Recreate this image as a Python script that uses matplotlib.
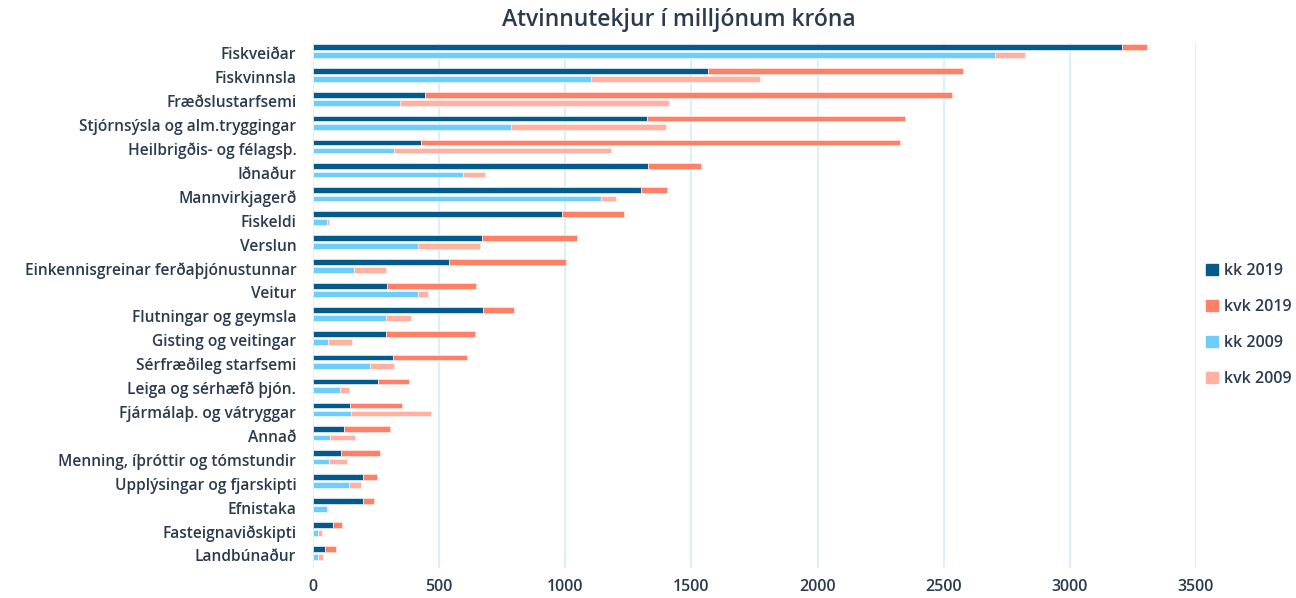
import numpy as np
import matplotlib
matplotlib.use("Agg")
import matplotlib.pyplot as plt
from matplotlib.patches import Patch

plt.rcParams['font.family'] = ['Open Sans', 'DejaVu Sans']

# atvinnugreinar, efst til neðst
greinar = ["Fiskveiðar", "Fiskvinnsla", "Fræðslustarfsemi", "Stjórnsýsla og alm.tryggingar",
           "Heilbrigðis- og félagsþ.", "Iðnaður", "Mannvirkjagerð", "Fiskeldi", "Verslun",
           "Einkennisgreinar ferðaþjónustunnar", "Veitur", "Flutningar og geymsla",
           "Gisting og veitingar", "Sérfræðileg starfsemi", "Leiga og sérhæfð þjón.",
           "Fjármálaþ. og vátryggar", "Annað", "Menning, íþróttir og tómstundir",
           "Upplýsingar og fjarskipti", "Efnistaka", "Fasteignaviðskipti", "Landbúnaður"]

kk_2019 = [3205, 1564, 443, 1325, 429, 1326, 1302, 988, 668, 541, 294, 673,
           289, 317, 257, 145, 121, 112, 199, 198, 79, 49]
kvk_2019 = [100, 1012, 2088, 1023, 1897, 210, 103, 245, 380, 463, 351, 125,
            355, 295, 124, 206, 184, 154, 56, 45, 37, 43]
kk_2009 = [2703, 1100, 346, 784, 321, 594, 1143, 57, 418, 162, 418, 289,
           59, 227, 107, 150, 67, 63, 143, 57, 21, 19]
kvk_2009 = [121, 672, 1065, 617, 859, 87, 59, 5, 244, 128, 36, 100,
            94, 96, 34, 318, 98, 70, 47, 2, 16, 22]

c_kk19 = "#055a8c"
c_kvk19 = "#ff8066"
c_kk09 = "#6dcdfd"
c_kvk09 = "#ffb2a2"
txt = "#2b3a4e"

y = np.arange(len(greinar))
h = 0.24
off = 0.17

fig = plt.figure(figsize=(12.96, 5.98), dpi=100)
ax = fig.add_axes([313/1296, 1 - 568/598, (1196 - 313)/1296, 525/598])

ax.barh(y - off, kk_2019, height=h, color=c_kk19, edgecolor="#d9e6ee", linewidth=0.6, zorder=3)
ax.barh(y - off, kvk_2019, left=kk_2019, height=h, color=c_kvk19, edgecolor="#ffe0d8", linewidth=0.6, zorder=3)
ax.barh(y + off, kk_2009, height=h, color=c_kk09, edgecolor="#e0f4ff", linewidth=0.6, zorder=3)
ax.barh(y + off, kvk_2009, left=kk_2009, height=h, color=c_kvk09, edgecolor="#ffeae5", linewidth=0.6, zorder=3)

ax.set_xlim(0, 3500)
ax.set_ylim(len(greinar) - 1 + 0.63, -0.33)
ax.set_xticks(np.arange(0, 3501, 500))
ax.set_yticks(y + 0.1)
ax.set_yticklabels(greinar)
ax.tick_params(axis='y', length=0, pad=12, labelsize=11.2, labelcolor=txt)
ax.tick_params(axis='x', length=0, pad=8, labelsize=11.5, labelcolor=txt)
for lab in ax.get_yticklabels() + ax.get_xticklabels():
    lab.set_fontweight('semibold')
ax.grid(axis='x', color="#d4f1fb", linewidth=1.3, zorder=0)
for s in ax.spines.values():
    s.set_visible(False)

fig.text(679/1296, 1 - 20/598, "Atvinnutekjur í milljónum króna", ha='center', va='center',
         fontsize=16.5, color=txt, fontweight='semibold')

handles = [Patch(color=c_kk19, label="kk 2019"), Patch(color=c_kvk19, label="kvk 2019"),
           Patch(color=c_kk09, label="kk 2009"), Patch(color=c_kvk09, label="kvk 2009")]
leg = fig.legend(handles=handles, loc='center left', bbox_to_anchor=(1192/1296, 1 - 325/598),
                 frameon=False, fontsize=11.5, handlelength=0.7, handleheight=0.7,
                 handletextpad=0.4, labelspacing=1.25)
for t in leg.get_texts():
    t.set_color(txt)
    t.set_fontweight('semibold')

fig.savefig("out.png", dpi=100)
